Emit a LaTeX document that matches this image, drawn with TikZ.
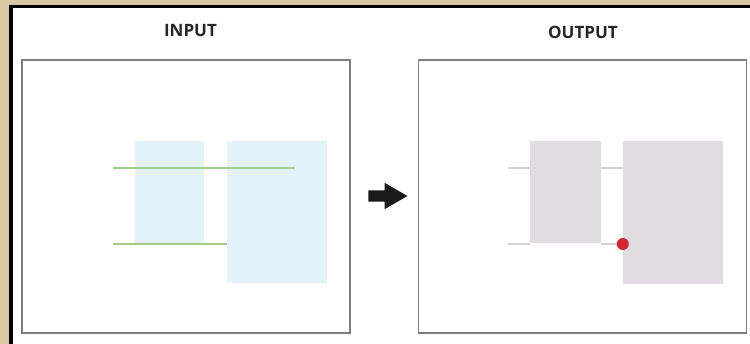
\documentclass[tikz,border=0pt]{standalone}
\usepackage{fontspec}
\setmainfont{Open Sans}
\usetikzlibrary{positioning,shapes.arrows}
\definecolor{tan}{HTML}{D8C8A6}
\definecolor{panelgray}{HTML}{7E7E7E}
\definecolor{boxblue}{HTML}{E2F3FB}
\definecolor{boxgray}{HTML}{E1DCE1}
\definecolor{edgegreen}{HTML}{A6CC8A}
\definecolor{edgegray}{HTML}{D4D2D6}
\definecolor{hitred}{HTML}{D3262D}
\tikzset{
  panel/.style={rectangle, draw=panelgray, line width=1.5pt, fill=white, minimum width=328pt, minimum height=273pt, inner sep=0pt},
  ttl/.style={font=\fontsize{17}{20}\selectfont\bfseries, text=black!85, inner sep=0pt},
  inrect/.style={rectangle, fill=boxblue, inner sep=0pt},
  outrect/.style={rectangle, fill=boxgray, inner sep=0pt},
  ine/.style={draw=edgegreen, line width=1.6pt},
  oute/.style={draw=edgegray, line width=1.6pt},
  hit/.style={circle, fill=hitred, minimum size=12pt, inner sep=0pt},
  arr/.style={single arrow, fill=black!90, minimum height=39pt, inner xsep=0pt, inner ysep=5.5pt, single arrow head extend=7.5pt, single arrow tip angle=60}
}

\begin{document}
\begin{tikzpicture}[x=1pt,y=-1pt]
	\useasboundingbox (0,0) rectangle (750,344);
	\fill[tan] (0,0) rectangle (750,344);
	\fill[white] (11,6.5) rectangle (750,344);
	\draw[line width=3.5pt] (11,344) -- (11,6.5) -- (750,6.5);
	%
	\node[panel] (inbox) at (186,196.5) {};
	\node[panel] (outbox) at (582.5,196.5) {};
	\node[ttl] (inlabel) at (190.5,31) {INPUT};
	\node[ttl] (outlabel) at (583,32) {OUTPUT};
	\node[arr] (arrow) at (383,196) {};
	%
	\node[inrect, minimum width=69pt, minimum height=102pt] (inA) at (169.5,192) {};
	\node[inrect, minimum width=100pt, minimum height=142pt] (inB) at (277,212) {};
	\coordinate (ina1) at (113,168);
	\coordinate (inb1) at (295,168);
	\coordinate (ina2) at (113,244);
	\draw[ine] (ina1) -- (inb1);
	\draw[ine] (ina2) -- (ina2 -| inB.west);
	%
	\node[outrect, minimum width=71pt, minimum height=102pt] (outA) at (565.5,192) {};
	\node[outrect, minimum width=100pt, minimum height=143pt] (outB) at (673,212.5) {};
	\coordinate (outa1) at (508,168);
	\coordinate (outa2) at (508,244);
	\draw[oute] (outa1) -- (outa1 -| outA.west);
	\draw[oute] (outa1 -| outA.east) -- (outa1 -| outB.west);
	\draw[oute] (outa2) -- (outa2 -| outA.west);
	\draw[oute] (outa2 -| outA.east) -- (outa2 -| outB.west);
	\node[hit] (pt) at (outa2 -| outB.west) {};
\end{tikzpicture}
\end{document}
